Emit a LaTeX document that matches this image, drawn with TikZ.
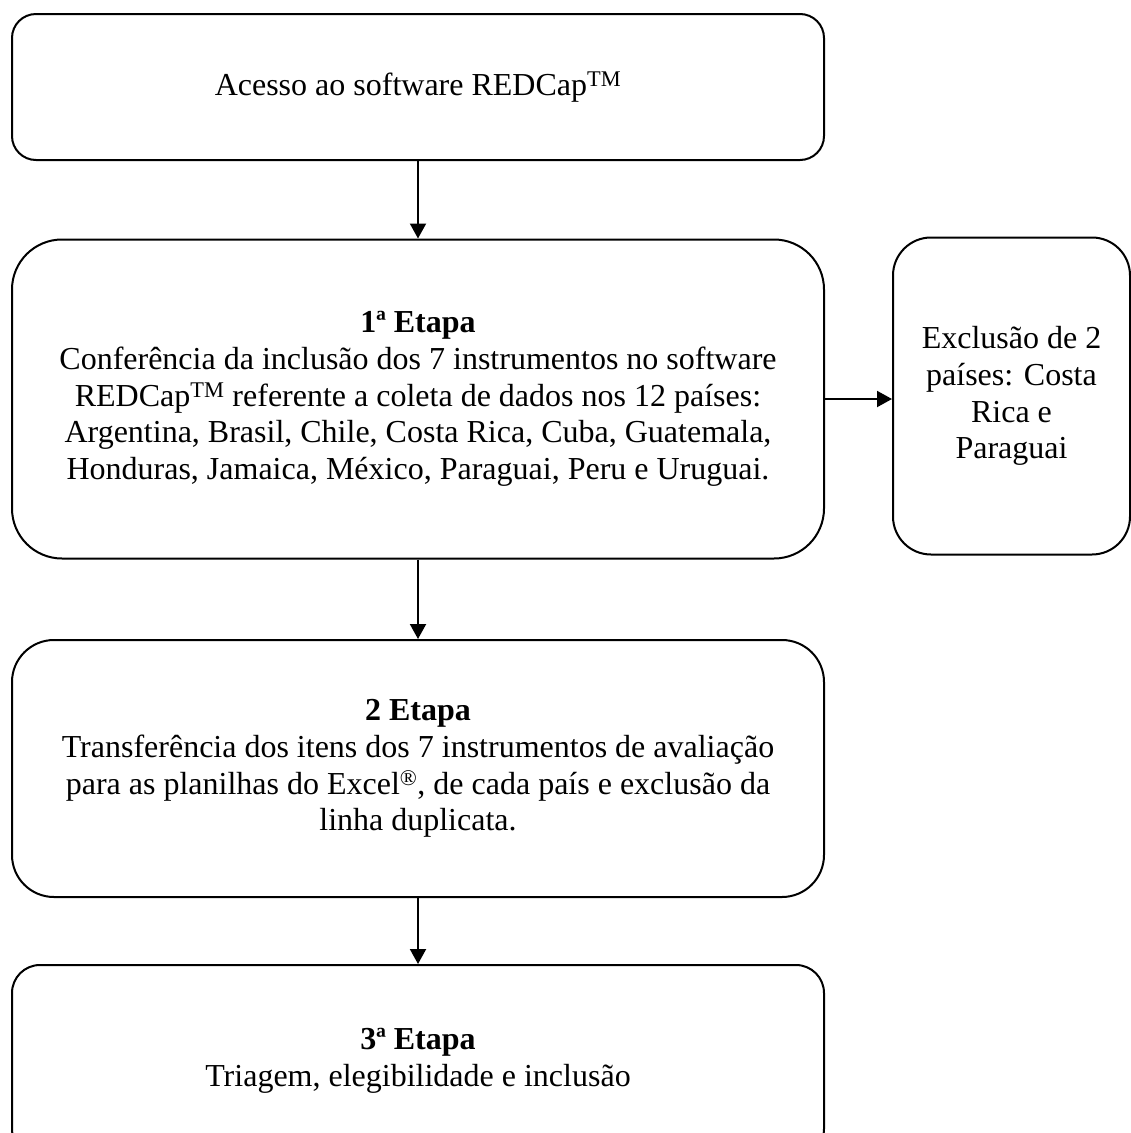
\documentclass[tikz,border=0pt]{standalone}
\usepackage{fontspec}
\setmainfont{Liberation Serif}
\usetikzlibrary{arrows.meta,positioning,calc}

\tikzset{
  etapa/.style={draw, line width=2pt, align=center, inner sep=0pt,
    font=\fontsize{32}{36.8}\selectfont},
  seta/.style={line width=2pt, -{Triangle[length=15pt,width=16pt]}},
}

\begin{document}
\begin{tikzpicture}[x=1pt,y=-1pt]
    \useasboundingbox (0,0) rectangle (1131,1133);
    \clip (0,0) rectangle (1131,1133);
    \node[etapa,rounded corners=24pt,minimum width=812pt,minimum height=146pt] (acesso) at (418,87)
        {Acesso ao software REDCap\textsuperscript{TM}};
    \node[etapa,rounded corners=50pt,minimum width=812pt,minimum height=319pt] (etapa1) at (418,399)
        {\textbf{1ª Etapa}\\
         Conferência da inclusão dos 7 instrumentos no software\\
         REDCap\textsuperscript{TM} referente a coleta de dados nos 12 países:\\
         Argentina, Brasil, Chile, Costa Rica, Cuba, Guatemala,\\
         Honduras, Jamaica, México, Paraguai, Peru e Uruguai.};
    \node[etapa,rounded corners=38pt,minimum width=237pt,minimum height=317pt] (exclusao) at (1011.5,396)
        {Exclusão de 2\\ países: Costa\\ Rica e\\ Paraguai};
    \node[etapa,rounded corners=42pt,minimum width=812pt,minimum height=257pt] (etapa2) at (418,768.5)
        {\textbf{2 Etapa}\\
         Transferência dos itens dos 7 instrumentos de avaliação\\
         para as planilhas do Excel\textsuperscript{®}, de cada país e exclusão da\\
         linha duplicata.};
    \node[etapa,rounded corners=28pt,minimum width=812pt,minimum height=192pt] (etapa3) at (418,1061)
        {\textbf{3ª Etapa}\\
         Triagem, elegibilidade e inclusão};
    % connectors
    \draw[seta] (acesso.south) -- (etapa1.north);
    \draw[seta] (etapa1.east) -- (exclusao.west |- etapa1.east);
    \draw[seta] (etapa1.south) -- (etapa2.north);
    \draw[seta] (etapa2.south) -- (etapa3.north);
\end{tikzpicture}
\end{document}
